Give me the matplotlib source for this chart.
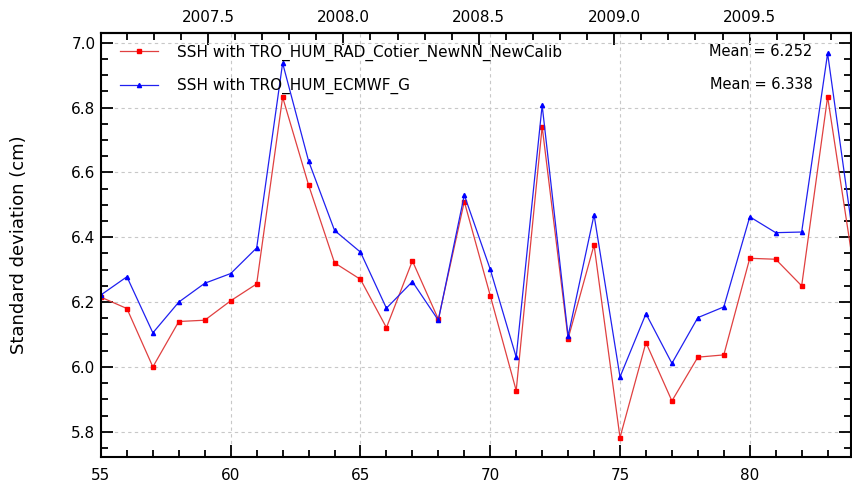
import numpy as np
import matplotlib
matplotlib.use("Agg")
import matplotlib.pyplot as plt
from matplotlib.ticker import MultipleLocator, FixedLocator

# cycle numbers and std dev (cm) for the two corrections
cycles = list(range(55, 85))
ssh_rad = [6.215, 6.180, 6.000, 6.140, 6.144, 6.204, 6.256, 6.832, 6.561, 6.321,
           6.270, 6.121, 6.327, 6.147, 6.510, 6.220, 5.927, 6.741, 6.087, 6.376,
           5.782, 6.075, 5.895, 6.030, 6.037, 6.335, 6.332, 6.250, 6.833, 6.308]
ssh_ecmwf = [6.222, 6.278, 6.105, 6.200, 6.258, 6.288, 6.367, 6.937, 6.635, 6.421,
             6.354, 6.181, 6.263, 6.144, 6.530, 6.301, 6.030, 6.807, 6.095, 6.469,
             5.969, 6.164, 6.011, 6.152, 6.185, 6.463, 6.414, 6.416, 6.967, 6.392]
labels = ["SSH with TRO_HUM_RAD_Cotier_NewNN_NewCalib", "SSH with TRO_HUM_ECMWF_G"]
means = ["Mean = 6.252", "Mean = 6.338"]
year_ticks = [2007.5, 2008.0, 2008.5, 2009.0, 2009.5]

# cycle -> decimal year (35-day cycles)
year0 = 2007.105
days_per_cycle = 35.0


def c2y(c):
    return year0 + (np.asarray(c) - 55) * days_per_cycle / 365.25


def y2c(y):
    return 55 + (np.asarray(y) - year0) * 365.25 / days_per_cycle


fig = plt.figure(figsize=(8.52, 4.86), dpi=100)
ax = fig.add_axes([0.1185, 0.0603, 0.8803, 0.8712])

ax.plot(cycles, ssh_rad, color="#e04040", lw=0.9, marker="s", ms=3,
        mfc="red", mec="red", label=labels[0])
ax.plot(cycles, ssh_ecmwf, color="#2020f0", lw=0.9, marker="^", ms=3,
        mfc="blue", mec="blue", label=labels[1])

ax.set_xlim(55, 83.9)
ax.set_ylim(5.723, 7.029)

ax.xaxis.set_major_locator(MultipleLocator(5))
ax.xaxis.set_minor_locator(MultipleLocator(1))
ax.yaxis.set_major_locator(MultipleLocator(0.2))
ax.yaxis.set_minor_locator(MultipleLocator(0.05))

ax.grid(True, which="major", color="#c8c8c8", linestyle=(0, (3, 3)), lw=0.8)

ax.tick_params(which="both", direction="in", top=False, right=True,
               width=1.3, labelsize=11)
ax.tick_params(which="major", length=8.5)
ax.tick_params(which="minor", length=5)
ax.tick_params(axis="x", pad=8)
ax.tick_params(axis="y", pad=4)
for s in ax.spines.values():
    s.set_linewidth(1.5)

secax = ax.secondary_xaxis("top", functions=(c2y, y2c))
secax.xaxis.set_major_locator(FixedLocator(year_ticks))
secax.xaxis.set_minor_locator(MultipleLocator(0.1))
secax.xaxis.set_major_formatter(plt.FormatStrFormatter("%.1f"))
secax.tick_params(which="both", direction="in", width=1.3, labelsize=11, pad=6)
secax.tick_params(which="major", length=8.5)
secax.tick_params(which="minor", length=5)
secax.spines["top"].set_linewidth(1.5)

ax.set_ylabel("Standard deviation (cm)", fontsize=13)
ax.yaxis.set_label_coords(-0.097, 0.5)

ax.legend(loc="upper left", frameon=False, fontsize=11, handlelength=2.5,
          handletextpad=1.25, labelspacing=1.15, borderaxespad=0.0,
          bbox_to_anchor=(0.0173, 0.988))

ax.text(0.949, 0.9565, means[0], transform=ax.transAxes, ha="right",
        va="center", fontsize=10.5)
ax.text(0.949, 0.878, means[1], transform=ax.transAxes, ha="right",
        va="center", fontsize=10.5)

fig.savefig("out.png", dpi=100)
